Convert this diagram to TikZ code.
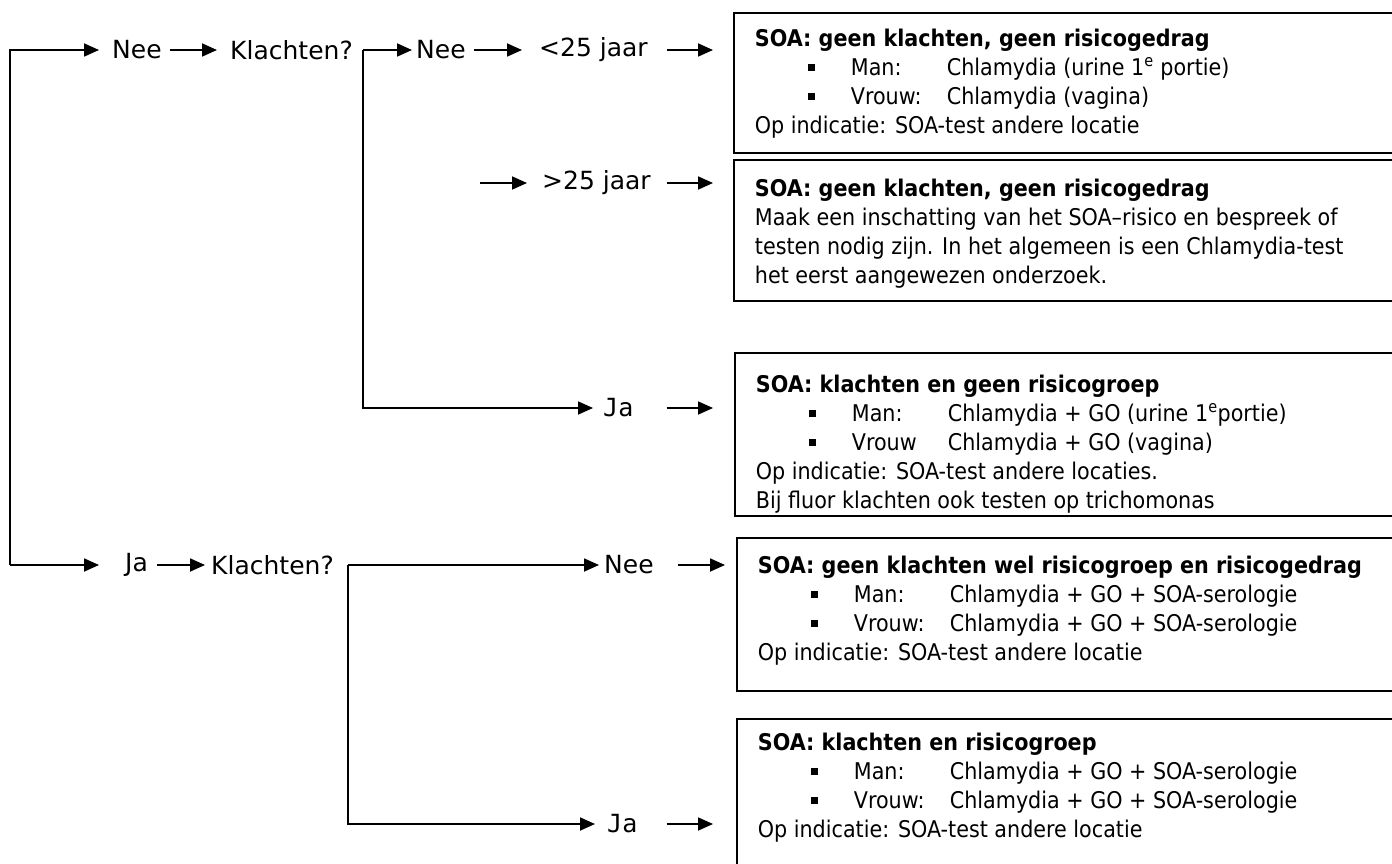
\documentclass[tikz,border=0pt]{standalone}
\usepackage{fontspec}
\setmainfont{DejaVu Sans}
\newfontfamily\boxfont{DejaVu Sans Condensed}
\newfontfamily\jafont{DejaVu Sans Mono}
\usetikzlibrary{positioning,arrows.meta}

% box contents: height, first baseline, lines
\newcommand{\boxlines}[3]{\parbox[t][#1][t]{700pt}{\rule{0pt}{#2}#3}}
\newcommand{\bul}[2]{\hspace*{53pt}\rule[4.5pt]{7pt}{7pt}\hspace*{36pt}\makebox[96pt][l]{#1}#2}

\begin{document}
\begin{tikzpicture}[
    x=1pt, y=-1pt,
    lbl/.style={
        anchor=west,
        inner sep=0pt,
        font=\fontsize{25}{29}\selectfont
    },
    jalbl/.style={
        lbl,
        font=\jafont\fontsize{25}{29}\selectfont
    },
    arrow/.style={
        -{Triangle[length=15pt,width=13pt]},
        line width=1.8pt
    },
    box/.style={
        draw,
        line width=1.8pt,
        anchor=north west,
        inner xsep=21pt,
        inner ysep=0pt,
        font=\boxfont\fontsize{23}{29}\selectfont
    }
]
\useasboundingbox (0,0) rectangle (1392,864);
\clip (0,0) rectangle (1392,864);

% decision labels
\node (nee1) [lbl] at (112,50) {Nee};
\node (klA) [lbl] at (230,50) {Klachten?};
\node (nee2) [lbl] at (416,50) {Nee};
\node (lt25) [lbl] at (539,50) {<25 jaar};
\node (gt25) [lbl] at (542,183) {>25 jaar};
\node (ja1) [jalbl] at (603,408) {Ja};
\node (ja2) [lbl] at (125,565) {Ja};
\node (klB) [lbl] at (211,565) {Klachten?};
\node (nee3) [lbl] at (604,565) {Nee};
\node (ja3) [jalbl] at (607,824) {Ja};

% advice boxes
\node (soaA) [box] at (733,12) {\boxlines{140pt}{34pt}{%
    \textbf{SOA: geen klachten, geen risicogedrag}\\
    \bul{Man:}{Chlamydia (urine 1\textsuperscript{e} portie)}\\
    \bul{Vrouw:}{Chlamydia (vagina)}\\
    Op indicatie: SOA-test andere locatie}};
\node (soaB) [box] at (733,159) {\boxlines{141pt}{37pt}{%
    \textbf{SOA: geen klachten, geen risicogedrag}\\
    Maak een inschatting van het SOA–risico en bespreek of\\
    testen nodig zijn. In het algemeen is een Chlamydia-test\\
    het eerst aangewezen onderzoek.}};
\node (soaC) [box] at (734,352) {\boxlines{163pt}{40pt}{%
    \textbf{SOA: klachten en geen risicogroep}\\
    \bul{Man:}{Chlamydia + GO (urine 1\textsuperscript{e}portie)}\\
    \bul{Vrouw}{Chlamydia + GO (vagina)}\\
    Op indicatie: SOA-test andere locaties.\\
    Bij fluor klachten ook testen op trichomonas}};
\node (soaD) [box] at (736,537) {\boxlines{153pt}{36pt}{%
    \textbf{SOA: geen klachten wel risicogroep en risicogedrag}\\
    \bul{Man:}{Chlamydia + GO + SOA-serologie}\\
    \bul{Vrouw:}{Chlamydia + GO + SOA-serologie}\\
    Op indicatie: SOA-test andere locatie}};
\node (soaE) [box] at (736,718) {\boxlines{170pt}{32pt}{%
    \textbf{SOA: klachten en risicogroep}\\
    \bul{Man:}{Chlamydia + GO + SOA-serologie}\\
    \bul{Vrouw:}{Chlamydia + GO + SOA-serologie}\\
    Op indicatie: SOA-test andere locatie}};

% branch points
\coordinate (root) at (10,565);
\coordinate (splitA) at (363,50);
\coordinate (splitB) at (348,565);
\coordinate (gtin) at (480,183);

% connectors
\draw[arrow] (root) |- ([xshift=-13pt]nee1.west);
\draw[arrow] (root) -- ([xshift=-26pt]ja2.west);
\draw[arrow] ([xshift=8pt]nee1.east) -- ([xshift=-13pt]klA.west);
\draw[arrow] (splitA) -- ([xshift=-4pt]nee2.west);
\draw[arrow] (splitA) |- ([xshift=-10pt]ja1.west);
\draw[arrow] ([xshift=8pt]nee2.east) -- ([xshift=-17pt]lt25.west);
\draw[arrow] ([xshift=19pt]lt25.east) -- ([xshift=-20pt]soaA.west |- lt25.east);
\draw[arrow] (gtin) -- ([xshift=-15pt]gt25.west);
\draw[arrow] ([xshift=16pt]gt25.east) -- ([xshift=-20pt]soaB.west |- gt25.east);
\draw[arrow] ([xshift=33pt]ja1.east) -- ([xshift=-21pt]soaC.west |- ja1.east);
\draw[arrow] ([xshift=9pt]ja2.east) -- ([xshift=-6pt]klB.west);
\draw[arrow] (splitB) -- ([xshift=-5pt]nee3.west);
\draw[arrow] (splitB) |- ([xshift=-12pt]ja3.west);
\draw[arrow] ([xshift=24pt]nee3.east) -- ([xshift=-11pt]soaD.west |- nee3.east);
\draw[arrow] ([xshift=29pt]ja3.east) -- ([xshift=-23pt]soaE.west |- ja3.east);
\end{tikzpicture}
\end{document}
